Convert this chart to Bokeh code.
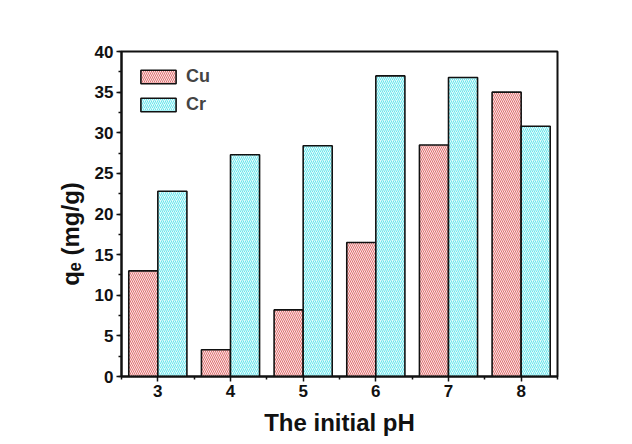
from bokeh.embed import file_html
from bokeh.models import (ColumnDataSource, FixedTicker, Legend, LegendItem,
                          Range1d, SingleIntervalTicker)
from bokeh.plotting import figure
from bokeh.resources import INLINE

# Equilibrium uptake q_e (mg/g) at each initial pH
ph_values = [3, 4, 5, 6, 7, 8]
cu_uptake = [13.0, 3.3, 8.2, 16.5, 28.5, 35.0]
cr_uptake = [22.8, 27.3, 28.4, 37.0, 36.8, 30.8]
series_names = ["Cu", "Cr"]
x_title = "The initial pH"
y_title = "q\u2091 (mg/g)"

BAR_W = 0.4
FONT = "Liberation Sans"

src = ColumnDataSource(dict(
    x_cu=[v - BAR_W / 2 for v in ph_values],
    x_cr=[v + BAR_W / 2 for v in ph_values],
    cu=cu_uptake,
    cr=cr_uptake,
))

p = figure(width=632, height=444, output_backend="svg", toolbar_location=None,
           x_range=Range1d(2.5, 8.5), y_range=Range1d(0, 40),
           min_border_left=121, min_border_right=75,
           min_border_top=51, min_border_bottom=68)
p.background_fill_color = "white"
p.border_fill_color = "white"
p.xgrid.visible = False
p.ygrid.visible = False
p.outline_line_color = "#111111"
p.outline_line_width = 2

cu_r = p.vbar(x="x_cu", top="cu", width=BAR_W, source=src,
              fill_color="#fde4e4", line_color="#111111", line_width=1.6,
              hatch_pattern="left_diagonal_line", hatch_color="#dc7272",
              hatch_scale=4, hatch_weight=1)
cr_r = p.vbar(x="x_cr", top="cr", width=BAR_W, source=src,
              fill_color="#e2fcfc", line_color="#111111", line_width=1.6,
              hatch_pattern="right_diagonal_line", hatch_color="#6ae4ec",
              hatch_scale=4, hatch_weight=1)

legend = Legend(items=[LegendItem(label=series_names[0], renderers=[cu_r]),
                       LegendItem(label=series_names[1], renderers=[cr_r])],
                location="top_left", margin=15, padding=0, spacing=7,
                glyph_width=44, glyph_height=17, label_standoff=6,
                label_text_font=FONT, label_text_font_style="bold",
                label_text_font_size="18px", label_height=17,
                border_line_color=None, background_fill_alpha=0)
p.add_layout(legend)

for ax in (p.xaxis[0], p.yaxis[0]):
    ax.axis_line_width = 2
    ax.axis_line_color = "#111111"
    ax.major_tick_line_width = 1.5
    ax.minor_tick_line_width = 1.5
    ax.major_tick_line_color = "#111111"
    ax.minor_tick_line_color = "#111111"
    ax.major_tick_in = 0
    ax.minor_tick_in = 0
    ax.major_tick_out = 5
    ax.minor_tick_out = 3
    ax.major_label_text_font = FONT
    ax.major_label_text_font_style = "bold"
    ax.major_label_text_font_size = "17px"
    ax.major_label_text_color = "#111111"
    ax.major_label_standoff = 3
    ax.axis_label_text_font = FONT
    ax.axis_label_text_font_style = "bold"
    ax.axis_label_text_font_size = "24px"
    ax.axis_label_text_color = "#111111"

p.xaxis.ticker = FixedTicker(ticks=ph_values,
                             minor_ticks=[v - 0.5 for v in ph_values] + [8.5])
p.yaxis.ticker = SingleIntervalTicker(interval=5, num_minor_ticks=2)

p.xaxis.axis_label = x_title
p.xaxis.axis_label_standoff = 9
# trailing no-break spaces push the centred y title a little towards the origin
p.yaxis.axis_label = y_title + "\u00a0" * 6
p.yaxis.axis_label_standoff = 8

open("out.html", "w").write(file_html(p, INLINE))
